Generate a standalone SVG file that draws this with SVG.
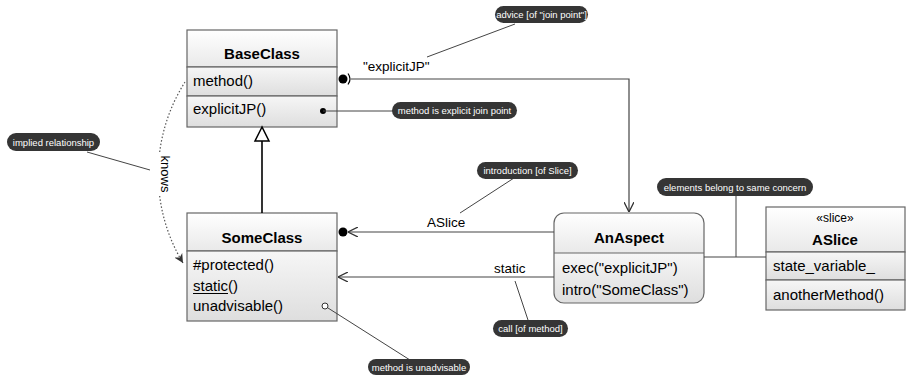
<svg xmlns="http://www.w3.org/2000/svg" width="907" height="376" viewBox="0 0 907 376">
  <style>
    text { font-family: "Liberation Sans", Arial, sans-serif; fill: #000; }
    .title { font-size: 15px; font-weight: bold; text-anchor: middle; }
    .member { font-size: 15px; }
    .stereo { font-size: 12px; text-anchor: middle; }
    .label { font-size: 13.5px; }
    .box { stroke: #666; stroke-width: 1.2; }
    .sep { stroke: #666; stroke-width: 1.2; fill: none; }
    .edge { stroke: #444; stroke-width: 1.2; fill: none; }
    .note rect { fill: #353535; }
    .note text { fill: #fff; font-size: 9.5px; text-anchor: middle; }
    .lead { stroke: #444; stroke-width: 1; fill: none; }
  </style>
  <defs>
    <linearGradient id="hdr" x1="0" y1="0" x2="0" y2="1">
      <stop offset="0" stop-color="#ffffff"/>
      <stop offset="1" stop-color="#e9e9e9"/>
    </linearGradient>
    <linearGradient id="cmp" x1="0" y1="0" x2="0" y2="1">
      <stop offset="0" stop-color="#f6f6f6"/>
      <stop offset="1" stop-color="#dedede"/>
    </linearGradient>
    <marker id="open" viewBox="0 0 10 10" refX="10" refY="5" markerWidth="10" markerHeight="10" markerUnits="userSpaceOnUse" orient="auto">
      <path d="M0,0 L10,5 L0,10" fill="none" stroke="#333" stroke-width="1.3"/>
    </marker>
    <marker id="dotArrow" viewBox="0 0 10 10" refX="10" refY="5" markerWidth="9" markerHeight="9" markerUnits="userSpaceOnUse" orient="auto">
      <path d="M0,0 L10,5 L0,10 L3,5 Z" fill="#333"/>
    </marker>
  </defs>

  <!-- BaseClass -->
  <g id="BaseClass">
    <rect class="box" x="187" y="30" width="150" height="37" fill="url(#hdr)"/>
    <rect class="box" x="187" y="67" width="150" height="29" fill="url(#cmp)"/>
    <rect class="box" x="187" y="96" width="150" height="31" fill="url(#cmp)"/>
    <text class="title" x="262" y="59">BaseClass</text>
    <text class="member" x="193" y="86">method()</text>
    <text class="member" x="193" y="114">explicitJP()</text>
  </g>

  <!-- SomeClass -->
  <g id="SomeClass">
    <rect class="box" x="187" y="213" width="150" height="38" fill="url(#hdr)"/>
    <rect class="box" x="187" y="251" width="150" height="70" fill="url(#cmp)"/>
    <text class="title" x="262" y="243">SomeClass</text>
    <text class="member" x="193" y="270">#protected()</text>
    <text class="member" x="193" y="291">static()</text>
    <line x1="193" y1="293.5" x2="228" y2="293.5" stroke="#000" stroke-width="1"/>
    <text class="member" x="193" y="311">unadvisable()</text>
  </g>

  <!-- AnAspect -->
  <g id="AnAspect">
    <clipPath id="aspClip"><rect x="554" y="213" width="150" height="90" rx="10"/></clipPath>
    <g clip-path="url(#aspClip)">
      <rect x="554" y="213" width="150" height="40" fill="url(#hdr)"/>
      <rect x="554" y="253" width="150" height="50" fill="url(#cmp)"/>
    </g>
    <rect class="box" x="554" y="213" width="150" height="90" rx="10" fill="none"/>
    <line class="sep" x1="554" y1="253" x2="704" y2="253"/>
    <text class="title" x="629" y="243">AnAspect</text>
    <text class="member" x="562" y="273">exec("explicitJP")</text>
    <text class="member" x="562" y="295">intro("SomeClass")</text>
  </g>

  <!-- ASlice -->
  <g id="ASlice">
    <rect class="box" x="766" y="207" width="139" height="45" fill="url(#hdr)"/>
    <rect class="box" x="766" y="252" width="139" height="28" fill="url(#cmp)"/>
    <rect class="box" x="766" y="280" width="139" height="30" fill="url(#cmp)"/>
    <text class="stereo" x="835" y="222">«slice»</text>
    <text class="title" x="835" y="245">ASlice</text>
    <text class="member" x="773" y="271">state_variable_</text>
    <text class="member" x="773" y="300">anotherMethod()</text>
  </g>

  <!-- connectors -->
  <g id="connectors">
    <!-- generalization SomeClass -> BaseClass -->
    <line x1="262" y1="141" x2="262" y2="213" stroke="#000" stroke-width="1.6"/>
    <polygon points="262,127 255,141 269,141" fill="#fff" stroke="#000" stroke-width="1.5"/>

    <!-- advice "explicitJP" -->
    <circle cx="343" cy="79" r="4.5" fill="#000"/>
    <path d="M348,73.5 Q352,79 348,84.5" fill="none" stroke="#000" stroke-width="1.2"/>
    <path class="edge" d="M351,79 H629 V212" marker-end="url(#open)"/>
    <text class="label" x="363" y="71">"explicitJP"</text>

    <!-- introduction ASlice -->
    <line class="edge" x1="554" y1="232" x2="348" y2="232" marker-end="url(#open)"/>
    <circle cx="343" cy="232" r="4.5" fill="#000"/>
    <text class="label" x="427" y="227">ASlice</text>

    <!-- call static -->
    <line class="edge" x1="554" y1="277" x2="338" y2="277" marker-end="url(#open)"/>
    <text class="label" x="494" y="273">static</text>

    <!-- implied relationship: knows -->
    <path d="M185,82 A172,172 0 0,0 183,263" fill="none" stroke="#555" stroke-width="1.2" stroke-dasharray="1.5,2" marker-end="url(#dotArrow)"/>
    <rect x="151" y="152" width="16" height="44" fill="#fff"/>
    <text class="label" transform="translate(158,174) rotate(90)" text-anchor="middle" style="font-size:13px" dy="-3">knows</text>

    <!-- AnAspect — ASlice concern line -->
    <line class="edge" x1="704" y1="257" x2="766" y2="257"/>

    <!-- note leaders -->
    <line class="lead" x1="427" y1="57" x2="515" y2="24"/>
    <circle cx="323" cy="111" r="3" fill="#000"/>
    <line class="lead" x1="323" y1="111" x2="393" y2="111"/>
    <line class="lead" x1="87" y1="152" x2="150" y2="170"/>
    <line class="lead" x1="460" y1="213" x2="514" y2="178"/>
    <line class="lead" x1="736" y1="195" x2="736" y2="257"/>
    <line class="lead" x1="515" y1="281" x2="528" y2="320"/>
    <line class="lead" x1="328" y1="308" x2="410" y2="360"/>
    <circle cx="325" cy="306" r="3" fill="#fff" stroke="#333" stroke-width="1"/>
  </g>

  <!-- notes -->
  <g id="note-advice" class="note">
    <rect x="495" y="6" width="93" height="17" rx="8.5"/>
    <text x="541.5" y="18">advice [of "join point"]</text>
  </g>
  <g id="note-explicit" class="note">
    <rect x="392" y="102" width="125" height="17" rx="8.5"/>
    <text x="454.5" y="114">method is explicit join point</text>
  </g>
  <g id="note-implied" class="note">
    <rect x="7" y="133" width="93" height="18" rx="9"/>
    <text x="53.5" y="145.5">implied relationship</text>
  </g>
  <g id="note-introduction" class="note">
    <rect x="477" y="162" width="101" height="17" rx="8.5"/>
    <text x="527.5" y="174">introduction [of Slice]</text>
  </g>
  <g id="note-concern" class="note">
    <rect x="657" y="178" width="156" height="18" rx="9"/>
    <text x="735" y="190.5">elements belong to same concern</text>
  </g>
  <g id="note-call" class="note">
    <rect x="493" y="320" width="75" height="17" rx="8.5"/>
    <text x="530.5" y="332">call [of method]</text>
  </g>
  <g id="note-unadvisable" class="note">
    <rect x="368" y="359" width="102" height="16" rx="8"/>
    <text x="419" y="370.5">method is unadvisable</text>
  </g>
</svg>
